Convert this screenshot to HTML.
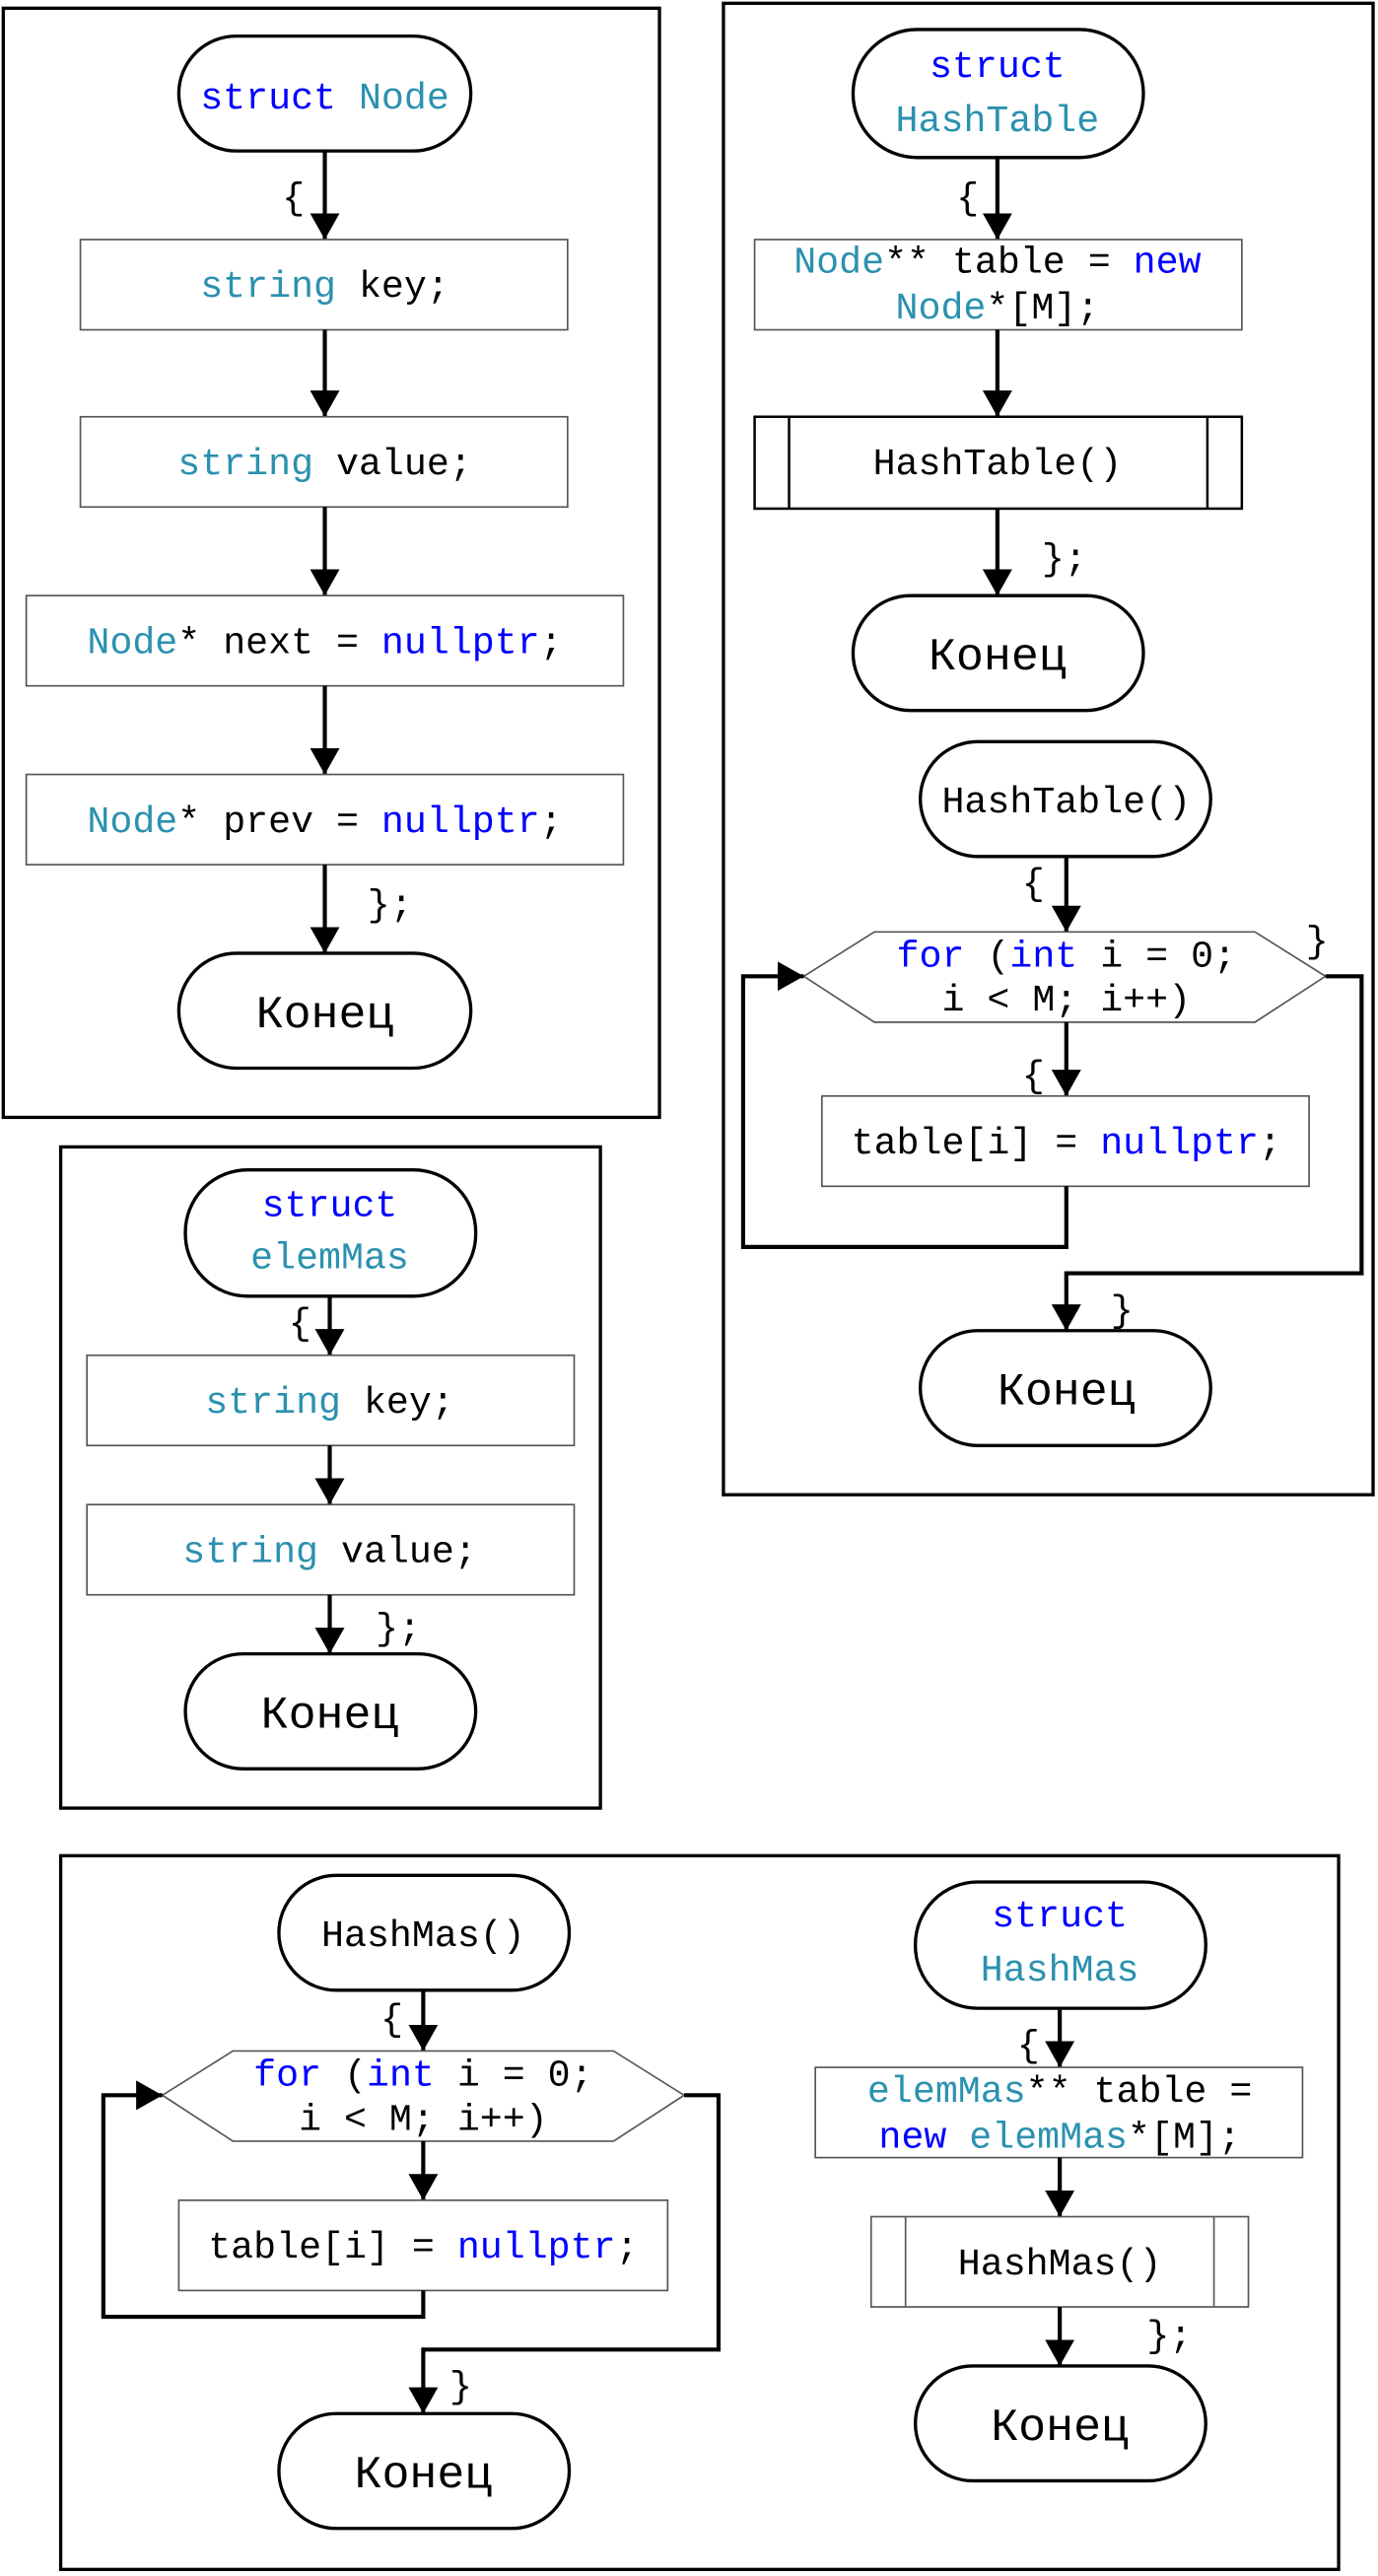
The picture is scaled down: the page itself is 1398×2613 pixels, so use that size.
<!DOCTYPE html>
<html><head><meta charset="utf-8"><style>
html,body{margin:0;padding:0;background:#fff}
svg{display:block}
text{font-family:"Liberation Mono","DejaVu Sans Mono",monospace;font-size:23px;fill:#000;white-space:pre}
.b{fill:#0000ff}.t{fill:#2b91af}
.k{font-size:28px}
.term{fill:#fff;stroke:#000;stroke-width:2}
.box{fill:#fff;stroke:#555;stroke-width:1}
.fr{fill:none;stroke:#000;stroke-width:2}
.ln{fill:none;stroke:#000;stroke-width:2.5}
</style></head><body>
<svg width="1398" height="2613" viewBox="0 0 840 1570" preserveAspectRatio="none" xmlns="http://www.w3.org/2000/svg">
<defs><marker id="a" viewBox="0 0 16 18" refX="16" refY="9" markerWidth="16" markerHeight="18" markerUnits="userSpaceOnUse" orient="auto"><path d="M0,0 L16,9 L0,18z" fill="#000"/></marker></defs>

<!-- Box 1 -->
<rect class="fr" x="2" y="5" width="400" height="676"/>
<rect class="term" x="109" y="22" width="178" height="70" rx="35"/>
<text x="198" y="66" text-anchor="middle"><tspan class="b">struct</tspan> <tspan class="t">Node</tspan></text>
<line class="ln" x1="198" y1="92" x2="198" y2="146" marker-end="url(#a)"/>
<text x="172" y="127">{</text>
<rect class="box" x="49" y="146" width="297" height="55"/>
<text x="198" y="181" text-anchor="middle"><tspan class="t">string</tspan> key;</text>
<line class="ln" x1="198" y1="201" x2="198" y2="254" marker-end="url(#a)"/>
<rect class="box" x="49" y="254" width="297" height="55"/>
<text x="198" y="289" text-anchor="middle"><tspan class="t">string</tspan> value;</text>
<line class="ln" x1="198" y1="309" x2="198" y2="363" marker-end="url(#a)"/>
<rect class="box" x="16" y="363" width="364" height="55"/>
<text x="198" y="398" text-anchor="middle"><tspan class="t">Node</tspan>* next = <tspan class="b">nullptr</tspan>;</text>
<line class="ln" x1="198" y1="418" x2="198" y2="472" marker-end="url(#a)"/>
<rect class="box" x="16" y="472" width="364" height="55"/>
<text x="198" y="507" text-anchor="middle"><tspan class="t">Node</tspan>* prev = <tspan class="b">nullptr</tspan>;</text>
<line class="ln" x1="198" y1="527" x2="198" y2="581" marker-end="url(#a)"/>
<text x="224" y="558">};</text>
<rect class="term" x="109" y="581" width="178" height="70" rx="35"/>
<text class="k" x="198" y="626" text-anchor="middle">Конец</text>

<!-- Box 2 -->
<rect class="fr" x="441" y="2" width="396" height="909"/>
<rect class="term" x="520" y="18" width="177" height="78" rx="39"/>
<text x="608" y="47" text-anchor="middle" class="b">struct</text>
<text x="608" y="80" text-anchor="middle" class="t">HashTable</text>
<line class="ln" x1="608" y1="96" x2="608" y2="146" marker-end="url(#a)"/>
<text x="583" y="127">{</text>
<rect class="box" x="460" y="146" width="297" height="55"/>
<text x="608" y="166" text-anchor="middle"><tspan class="t">Node</tspan>** table = <tspan class="b">new</tspan></text>
<text x="608" y="194" text-anchor="middle"><tspan class="t">Node</tspan>*[M];</text>
<line class="ln" x1="608" y1="201" x2="608" y2="254" marker-end="url(#a)"/>
<rect x="460" y="254" width="297" height="56" fill="#fff" stroke="#000" stroke-width="1.5"/>
<line x1="481" y1="254" x2="481" y2="310" stroke="#000" stroke-width="1.5"/>
<line x1="736" y1="254" x2="736" y2="310" stroke="#000" stroke-width="1.5"/>
<text x="608" y="289" text-anchor="middle">HashTable()</text>
<line class="ln" x1="608" y1="310" x2="608" y2="363" marker-end="url(#a)"/>
<text x="635" y="347">};</text>
<rect class="term" x="520" y="363" width="177" height="70" rx="35"/>
<text class="k" x="608" y="408" text-anchor="middle">Конец</text>
<rect class="term" x="561" y="452" width="177" height="70" rx="35"/>
<text x="650" y="495" text-anchor="middle">HashTable()</text>
<line class="ln" x1="650" y1="522" x2="650" y2="568" marker-end="url(#a)"/>
<text x="623" y="545">{</text>
<polygon points="490,595 533,568 765,568 808,595 765,623 533,623" fill="#fff" stroke="#555" stroke-width="1"/>
<text x="650" y="589" text-anchor="middle"><tspan class="b">for</tspan> (<tspan class="b">int</tspan> i = 0;</text>
<text x="650" y="616" text-anchor="middle">i &lt; M; i++)</text>
<text x="796" y="580">}</text>
<line class="ln" x1="650" y1="623" x2="650" y2="668" marker-end="url(#a)"/>
<text x="623" y="662">{</text>
<rect class="box" x="501" y="668" width="297" height="55"/>
<text x="650" y="703" text-anchor="middle">table[i] = <tspan class="b">nullptr</tspan>;</text>
<polyline class="ln" points="650,723 650,760 453,760 453,595 490,595" marker-end="url(#a)"/>
<polyline class="ln" points="808,595 830,595 830,776 650,776 650,811" marker-end="url(#a)"/>
<text x="677" y="805">}</text>
<rect class="term" x="561" y="811" width="177" height="70" rx="35"/>
<text class="k" x="650" y="856" text-anchor="middle">Конец</text>

<!-- Box 3 -->
<rect class="fr" x="37" y="699" width="329" height="403"/>
<rect class="term" x="113" y="713" width="177" height="77" rx="38"/>
<text x="201" y="741" text-anchor="middle" class="b">struct</text>
<text x="201" y="773" text-anchor="middle" class="t">elemMas</text>
<line class="ln" x1="201" y1="790" x2="201" y2="826" marker-end="url(#a)"/>
<text x="176" y="813">{</text>
<rect class="box" x="53" y="826" width="297" height="55"/>
<text x="201" y="861" text-anchor="middle"><tspan class="t">string</tspan> key;</text>
<line class="ln" x1="201" y1="881" x2="201" y2="917" marker-end="url(#a)"/>
<rect class="box" x="53" y="917" width="297" height="55"/>
<text x="201" y="952" text-anchor="middle"><tspan class="t">string</tspan> value;</text>
<line class="ln" x1="201" y1="972" x2="201" y2="1008" marker-end="url(#a)"/>
<text x="229" y="999">};</text>
<rect class="term" x="113" y="1008" width="177" height="70" rx="35"/>
<text class="k" x="201" y="1053" text-anchor="middle">Конец</text>

<!-- Box 4 -->
<rect class="fr" x="37" y="1131" width="779" height="435"/>
<rect class="term" x="170" y="1143" width="177" height="70" rx="35"/>
<text x="258" y="1186" text-anchor="middle">HashMas()</text>
<line class="ln" x1="258" y1="1213" x2="258" y2="1250" marker-end="url(#a)"/>
<text x="232" y="1237">{</text>
<polygon points="99,1277 142,1250 374,1250 417,1277 374,1305 142,1305" fill="#fff" stroke="#555" stroke-width="1"/>
<text x="258" y="1271" text-anchor="middle"><tspan class="b">for</tspan> (<tspan class="b">int</tspan> i = 0;</text>
<text x="258" y="1298" text-anchor="middle">i &lt; M; i++)</text>
<line class="ln" x1="258" y1="1305" x2="258" y2="1341" marker-end="url(#a)"/>
<rect class="box" x="109" y="1341" width="298" height="55"/>
<text x="258" y="1376" text-anchor="middle">table[i] = <tspan class="b">nullptr</tspan>;</text>
<polyline class="ln" points="258,1396 258,1412 63,1412 63,1277 99,1277" marker-end="url(#a)"/>
<polyline class="ln" points="417,1277 438,1277 438,1432 258,1432 258,1471" marker-end="url(#a)"/>
<text x="274" y="1461">}</text>
<rect class="term" x="170" y="1471" width="177" height="70" rx="35"/>
<text class="k" x="258" y="1516" text-anchor="middle">Конец</text>

<rect class="term" x="558" y="1147" width="177" height="77" rx="38"/>
<text x="646" y="1174" text-anchor="middle" class="b">struct</text>
<text x="646" y="1207" text-anchor="middle" class="t">HashMas</text>
<line class="ln" x1="646" y1="1224" x2="646" y2="1260" marker-end="url(#a)"/>
<text x="620" y="1253">{</text>
<rect class="box" x="497" y="1260" width="297" height="55"/>
<text x="646" y="1281" text-anchor="middle"><tspan class="t">elemMas</tspan>** table =</text>
<text x="646" y="1309" text-anchor="middle"><tspan class="b">new</tspan> <tspan class="t">elemMas</tspan>*[M];</text>
<line class="ln" x1="646" y1="1315" x2="646" y2="1351" marker-end="url(#a)"/>
<rect class="box" x="531" y="1351" width="230" height="55"/>
<line x1="552" y1="1351" x2="552" y2="1406" stroke="#555" stroke-width="1"/>
<line x1="740" y1="1351" x2="740" y2="1406" stroke="#555" stroke-width="1"/>
<text x="646" y="1386" text-anchor="middle">HashMas()</text>
<line class="ln" x1="646" y1="1406" x2="646" y2="1442" marker-end="url(#a)"/>
<text x="699" y="1430">};</text>
<rect class="term" x="558" y="1442" width="177" height="70" rx="35"/>
<text class="k" x="646" y="1487" text-anchor="middle">Конец</text>
</svg>
</body></html>
